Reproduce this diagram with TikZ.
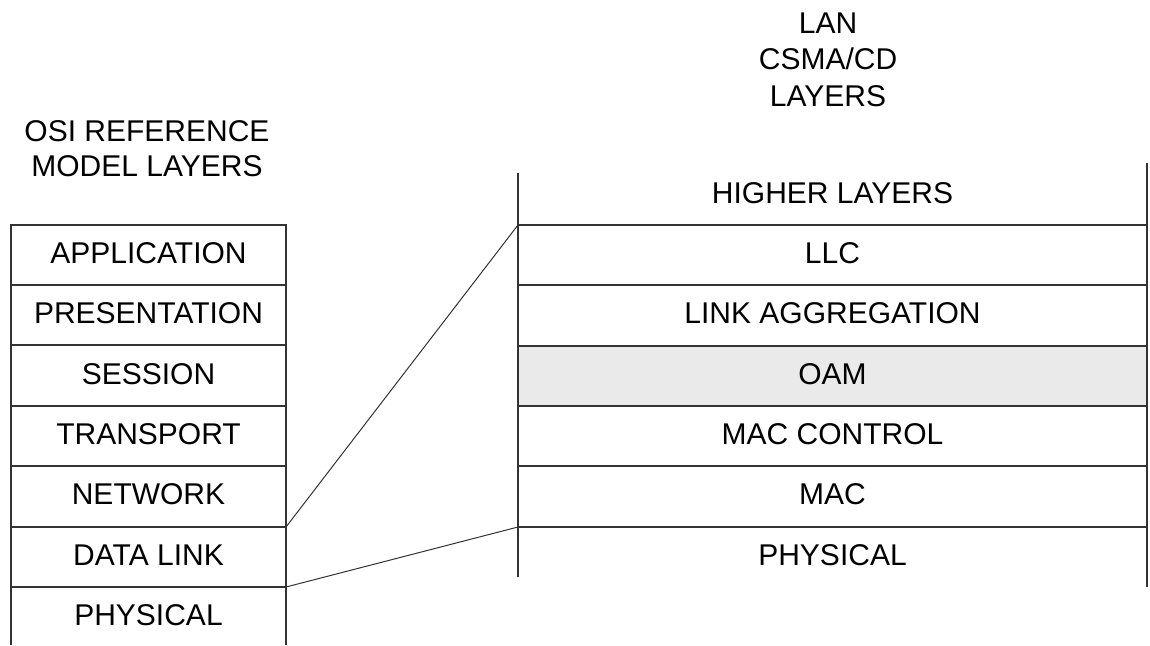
\documentclass[tikz,border=0pt]{standalone}
\usepackage{fontspec}
\setmainfont{Liberation Sans}
\definecolor{linec}{HTML}{333333}
\definecolor{oamfill}{HTML}{EAEAEA}
\tikzset{
  lbl/.style={anchor=base, inner sep=0pt, font=\fontsize{30}{36}\selectfont, text=black},
  rule/.style={draw=linec, line width=1.6pt},
  link/.style={draw=linec, line width=1pt},
}
\begin{document}
\begin{tikzpicture}[x=1pt,y=-1pt]
\useasboundingbox[fill=white] (0,0) rectangle (1150,645);
% OAM shading
\fill[oamfill] (518,346) rectangle (1147,406);
% left column
\draw[rule] (11,645) -- (11,225) -- (286,225) -- (286,645);
\foreach \y in {285,345,406,466,527,587} \draw[rule] (11,\y) -- (286,\y);
% right column
\draw[rule] (518,173) -- (518,577);
\draw[rule] (1147,163) -- (1147,587);
\foreach \y in {225,285,346,406,466,527} \draw[rule] (518,\y) -- (1147,\y);
% titles
\node[lbl] (t1) at (147,141) {OSI REFERENCE};
\node[lbl] (t2) at (147,176) {MODEL LAYERS};
\node[lbl] (r1) at (828,33) {LAN};
\node[lbl] (r2) at (828,69) {CSMA/CD};
\node[lbl] (r3) at (828,106) {LAYERS};
% left labels
\node[lbl] (app) at (148.5,263) {APPLICATION};
\node[lbl] (pre) at (148.5,323) {PRESENTATION};
\node[lbl] (ses) at (148.5,384) {SESSION};
\node[lbl] (tra) at (148.5,444) {TRANSPORT};
\node[lbl] (net) at (148.5,504) {NETWORK};
\node[lbl] (dl)  at (148.5,565) {DATA LINK};
\node[lbl] (phy) at (148.5,625) {PHYSICAL};
% right labels
\node[lbl] (hl)  at (832.5,203) {HIGHER LAYERS};
\node[lbl] (llc) at (832.5,263) {LLC};
\node[lbl] (la)  at (832.5,323) {LINK AGGREGATION};
\node[lbl] (oam) at (832.5,384) {OAM};
\node[lbl] (mcc) at (832.5,444) {MAC CONTROL};
\node[lbl] (mac) at (832.5,504) {MAC};
\node[lbl] (rphy) at (832.5,565) {PHYSICAL};
% connector points
\coordinate (dlTop) at (286,527);
\coordinate (dlBot) at (286,587);
\coordinate (llcTop) at (518,225);
\coordinate (physTop) at (518,527);
\draw[link] (dlTop) -- (llcTop);
\draw[link] (dlBot) -- (physTop);
\end{tikzpicture}
\end{document}
